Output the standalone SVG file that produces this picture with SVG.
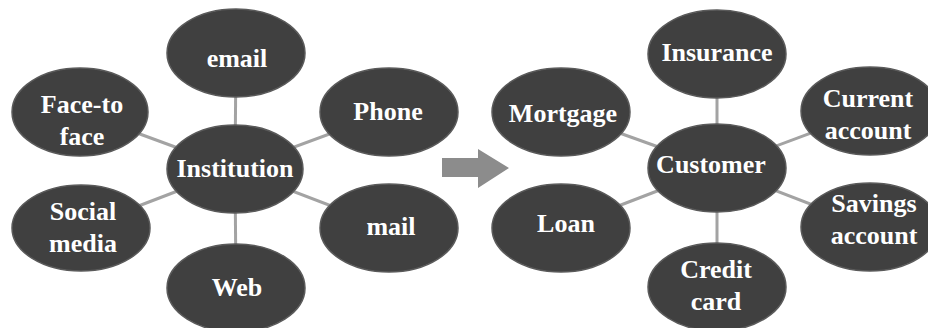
<svg xmlns="http://www.w3.org/2000/svg" width="928" height="328" viewBox="0 0 928 328">
  <style>
    .node ellipse { fill: #404040; stroke: #5a5a5a; stroke-width: 1.5; }
    .node text { fill: #ffffff; font-family: "Liberation Serif", "Times New Roman", serif; font-weight: bold; font-size: 26px; text-anchor: middle; }
    #connectors line { stroke: #a3a3a3; stroke-width: 3; }
  </style>
  <rect width="928" height="328" fill="#ffffff"/>

  <!-- connectors: drawn center to center, hidden under the ellipses -->
  <g id="connectors">
    <line x1="235" y1="169" x2="236" y2="53"/>
    <line x1="235" y1="169" x2="80" y2="112"/>
    <line x1="235" y1="169" x2="389" y2="112"/>
    <line x1="235" y1="169" x2="81" y2="228"/>
    <line x1="235" y1="169" x2="389" y2="228"/>
    <line x1="235" y1="169" x2="236" y2="288"/>
    <line x1="717" y1="168" x2="717" y2="54"/>
    <line x1="717" y1="168" x2="561" y2="112"/>
    <line x1="717" y1="168" x2="870" y2="111"/>
    <line x1="717" y1="168" x2="561" y2="228"/>
    <line x1="717" y1="168" x2="870" y2="227"/>
    <line x1="717" y1="168" x2="717" y2="287"/>
  </g>

  <!-- block arrow between the two clusters -->
  <g id="arrow">
    <polygon points="442,158 478,158 478,149 509,168 478,188 478,177 442,177" fill="#8c8c8c"/>
  </g>

  <!-- left cluster -->
  <g id="email" class="node">
    <ellipse cx="236" cy="53" rx="69" ry="44"/>
    <text x="237" y="67">email</text>
  </g>
  <g id="face-to-face" class="node">
    <ellipse cx="80" cy="112" rx="68" ry="44"/>
    <text x="82" y="113">Face-to</text>
    <text x="82" y="145">face</text>
  </g>
  <g id="phone" class="node">
    <ellipse cx="389" cy="112" rx="69" ry="44"/>
    <text x="388" y="120">Phone</text>
  </g>
  <g id="institution" class="node">
    <ellipse cx="235" cy="169" rx="68" ry="44"/>
    <text x="235" y="177">Institution</text>
  </g>
  <g id="social-media" class="node">
    <ellipse cx="81" cy="228" rx="69" ry="43"/>
    <text x="83" y="220">Social</text>
    <text x="83" y="252">media</text>
  </g>
  <g id="mail" class="node">
    <ellipse cx="389" cy="228" rx="69" ry="44"/>
    <text x="391" y="235">mail</text>
  </g>
  <g id="web" class="node">
    <ellipse cx="236" cy="288" rx="69" ry="44"/>
    <text x="237" y="296">Web</text>
  </g>

  <!-- right cluster -->
  <g id="insurance" class="node">
    <ellipse cx="717" cy="54" rx="69" ry="44"/>
    <text x="717" y="61">Insurance</text>
  </g>
  <g id="mortgage" class="node">
    <ellipse cx="561" cy="112" rx="69" ry="44"/>
    <text x="563" y="122">Mortgage</text>
  </g>
  <g id="current-account" class="node">
    <ellipse cx="870" cy="111" rx="69" ry="44"/>
    <text x="868" y="107">Current</text>
    <text x="868" y="139">account</text>
  </g>
  <g id="customer" class="node">
    <ellipse cx="717" cy="168" rx="69" ry="44"/>
    <text x="711" y="173">Customer</text>
  </g>
  <g id="loan" class="node">
    <ellipse cx="561" cy="228" rx="69" ry="44"/>
    <text x="566" y="232">Loan</text>
  </g>
  <g id="savings-account" class="node">
    <ellipse cx="870" cy="227" rx="69" ry="44"/>
    <text x="874" y="212">Savings</text>
    <text x="874" y="244">account</text>
  </g>
  <g id="credit-card" class="node">
    <ellipse cx="717" cy="287" rx="69" ry="44"/>
    <text x="716" y="278">Credit</text>
    <text x="716" y="310">card</text>
  </g>
</svg>
